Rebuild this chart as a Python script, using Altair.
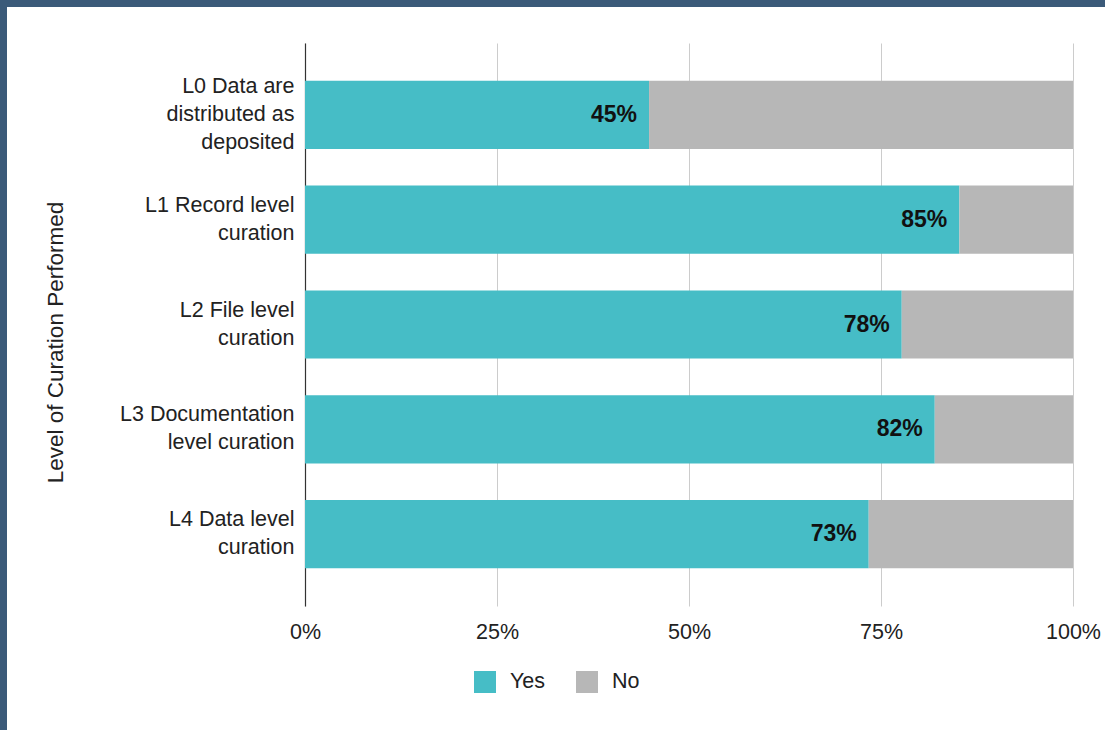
import altair as alt
import pandas as pd

# ---- data ----
categories = [
    "L0 Data are|distributed as|deposited",
    "L1 Record level|curation",
    "L2 File level|curation",
    "L3 Documentation|level curation",
    "L4 Data level|curation",
]
yes_values = [44.8, 85.2, 77.7, 82.0, 73.4]
no_values = [55.2, 14.8, 22.3, 18.0, 26.6]
responses = ["Yes", "No"]
colors = ["#46BDC6", "#B7B7B7"]
x_ticks = [0, 25, 50, 75, 100]

rows = []
for cat, y, n in zip(categories, yes_values, no_values):
    rows.append({"level": cat, "response": "Yes", "value": y, "ord": 0})
    rows.append({"level": cat, "response": "No", "value": n, "ord": 1})
df = pd.DataFrame(rows)

# ---- layout ----
TOTAL_W, TOTAL_H = 1105, 730
PL, PT = 305, 43
W, H = 768, 563
FRAME = "#3B5A79"
FONT = "Liberation Sans"
TXT = "#222222"
FS = 21.5
LH = 28

y_enc = alt.Y(
    "level:N",
    sort=categories,
    scale=alt.Scale(paddingInner=0.35, paddingOuter=0.36),
    axis=alt.Axis(
        title="Level of Curation Performed",
        titleFontSize=22.5,
        titleFontWeight="normal",
        titleColor=TXT,
        titleFont=FONT,
        titleX=-250,
        titleY=299,
        titleAlign="center",
        titleBaseline="middle",
        labelExpr="split(datum.label, '|')",
        labelFontSize=FS,
        labelFont=FONT,
        labelColor=TXT,
        labelLineHeight=LH,
        labelBaseline="middle",
        labelOffset={
            "condition": {"test": "length(split(datum.value, '|')) == 3", "value": -LH},
            "value": -LH / 2,
        },
        labelPadding=11,
        labelLimit=400,
        ticks=False,
        domainColor="#333333",
        domainWidth=1.2,
        grid=False,
    ),
)

bars = alt.Chart(df).mark_bar().encode(
    y=y_enc,
    x=alt.X(
        "value:Q",
        stack="zero",
        scale=alt.Scale(domain=[0, 100], nice=False),
        axis=alt.Axis(
            title=None,
            values=x_ticks,
            labelExpr="datum.value + '%'",
            labelFontSize=FS,
            labelFont=FONT,
            labelColor=TXT,
            labelPadding=15,
            labelFlush=False,
            labelOverlap=False,
            ticks=False,
            domain=False,
            grid=True,
            gridColor="#CCCCCC",
            gridWidth=1,
        ),
    ),
    color=alt.Color(
        "response:N",
        sort=responses,
        scale=alt.Scale(domain=responses, range=colors),
        legend=alt.Legend(
            title=None,
            orient="none",
            direction="horizontal",
            legendX=169,
            legendY=628,
            symbolType="square",
            symbolSize=484,
            symbolStrokeWidth=0,
            symbolOpacity=1,
            labelFontSize=FS,
            labelFont=FONT,
            labelColor=TXT,
            labelOffset=14,
            columnPadding=30,
            padding=0,
        ),
    ),
    order=alt.Order("ord:Q"),
)

labels = (
    alt.Chart(df)
    .transform_filter("datum.response == 'Yes'")
    .transform_calculate(lab="format(datum.value, '.0f') + '%'")
    .mark_text(
        align="right",
        baseline="middle",
        dx=-12,
        fontSize=23,
        fontWeight="bold",
        font=FONT,
        color="#111111",
    )
    .encode(
        y=alt.Y("level:N", sort=categories),
        x=alt.X("value:Q", stack=None),
        text="lab:N",
    )
)

one = pd.DataFrame({"k": [0]})
frame_top = alt.Chart(one).mark_rect(color=FRAME).encode(
    x=alt.value(-PL), x2=alt.value(TOTAL_W - PL),
    y=alt.value(-PT), y2=alt.value(7 - PT),
)
frame_left = alt.Chart(one).mark_rect(color=FRAME).encode(
    x=alt.value(-PL), x2=alt.value(7 - PL),
    y=alt.value(-PT), y2=alt.value(TOTAL_H - PT),
)

chart = (
    alt.layer(bars, labels, frame_top, frame_left)
    .properties(
        width=W,
        height=H,
        autosize=alt.AutoSizeParams(type="none"),
        padding={"left": PL, "top": PT, "right": TOTAL_W - PL - W, "bottom": TOTAL_H - PT - H},
        background="white",
    )
    .configure_view(stroke=None)
)

chart.save("out.html", embed_options={"renderer": "svg", "actions": False})
